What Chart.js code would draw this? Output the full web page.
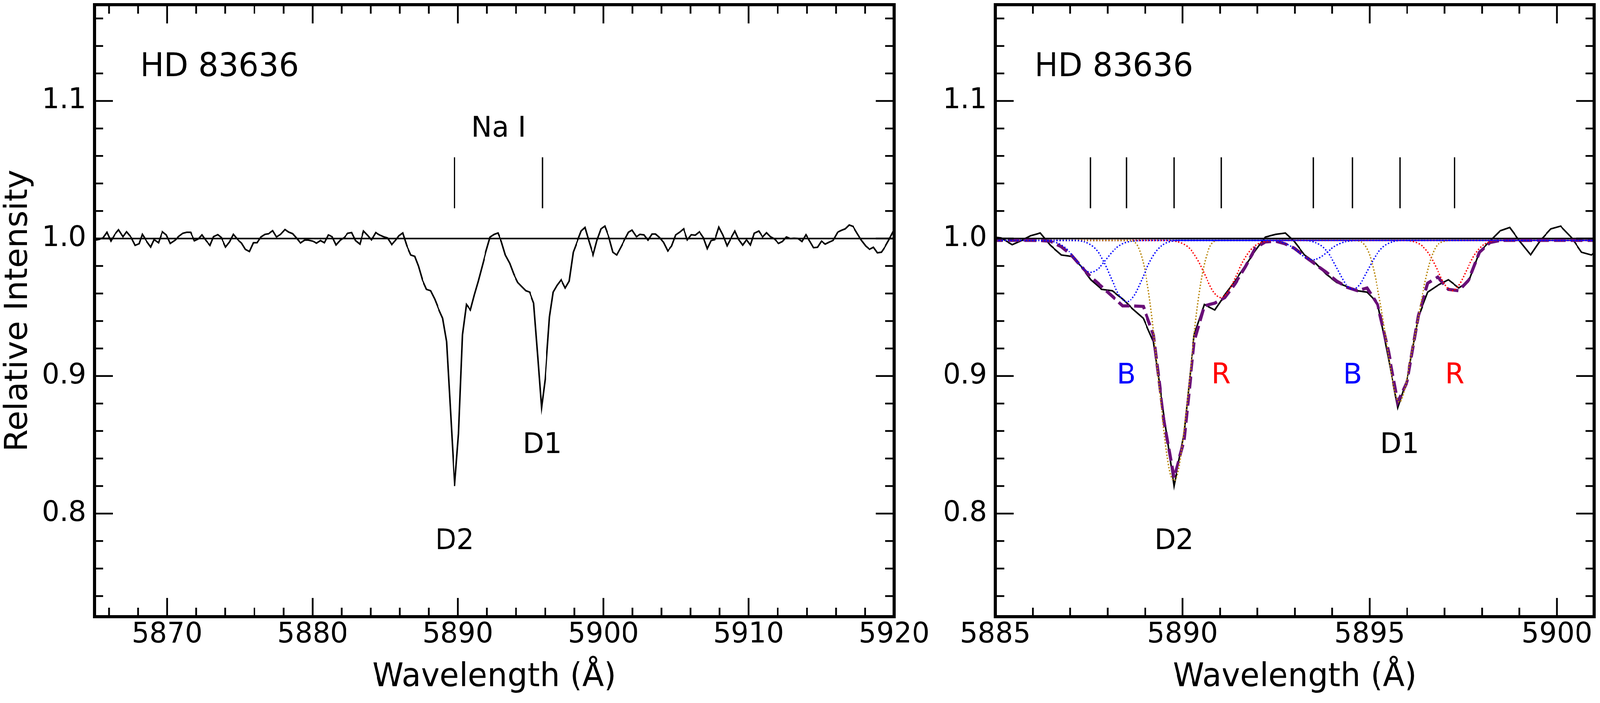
<!DOCTYPE html>
<html>
<head>
<meta charset="utf-8">
<title>HD 83636 - Na I D lines</title>
<script src="https://cdn.jsdelivr.net/npm/chart.js@4.4.1/dist/chart.umd.min.js"></script>
<style>
  html, body { margin: 0; padding: 0; background: #fff; overflow: hidden; }
  #wrap { position: relative; width: 4200px; height: 1800px; transform-origin: 0 0; }
  canvas { position: absolute; top: 0; }
  #naFull { left: 0; }
  #naZoom { left: 2400px; }
</style>
</head>
<body>
<div id="wrap">
  <canvas id="naFull" width="2500" height="1800"></canvas>
  <canvas id="naZoom" width="1800" height="1800"></canvas>
</div>
<script>
const FONT = "'DejaVu Sans', Verdana, sans-serif";

// observed spectrum, relative intensity vs wavelength (A)
const naWave = [
  5865.06, 5865.33, 5865.59, 5865.86, 5866.13, 5866.40, 5866.66, 5866.96, 5867.20, 5867.53,
  5867.80, 5868.07, 5868.29, 5868.60, 5868.87, 5869.10, 5869.40, 5869.67, 5869.94, 5870.21,
  5870.54, 5870.81, 5871.08, 5871.34, 5871.61, 5871.88, 5872.15, 5872.39, 5872.68, 5872.95,
  5873.19, 5873.48, 5873.72, 5874.02, 5874.29, 5874.55, 5874.85, 5875.12, 5875.38, 5875.65,
  5875.92, 5876.19, 5876.45, 5876.72, 5876.99, 5877.26, 5877.52, 5877.79, 5878.10, 5878.37,
  5878.63, 5878.90, 5879.17, 5879.46, 5879.70, 5880.00, 5880.28, 5880.55, 5880.81, 5881.08,
  5881.35, 5881.62, 5881.91, 5882.18, 5882.42, 5882.69, 5882.95, 5883.25, 5883.51, 5883.78,
  5884.05, 5884.34, 5884.61, 5884.88, 5885.15, 5885.45, 5885.72,
  5885.94, 5886.20, 5886.47, 5886.76, 5887.03, 5887.28, 5887.55, 5887.84, 5888.12, 5888.40,
  5888.66, 5888.95, 5889.22, 5889.50, 5889.77, 5890.04, 5890.31, 5890.58, 5890.86, 5891.13,
  5891.40, 5891.67, 5891.94, 5892.21, 5892.49, 5892.75, 5892.98, 5893.26, 5893.56, 5893.84,
  5894.12, 5894.39, 5894.67, 5894.93, 5895.21, 5895.50, 5895.75, 5896.00, 5896.30, 5896.55,
  5896.82, 5897.10, 5897.38, 5897.65, 5897.93, 5898.21, 5898.48, 5898.74, 5899.01, 5899.30,
  5899.56, 5899.84, 5900.10, 5900.39, 5900.66, 5900.92,
  5901.20, 5901.46, 5901.73, 5901.97, 5902.27, 5902.53, 5902.80, 5903.07, 5903.34, 5903.60,
  5903.87, 5904.14, 5904.43, 5904.70, 5904.98, 5905.25, 5905.52, 5905.78, 5906.05, 5906.32,
  5906.61, 5906.88, 5907.15, 5907.41, 5907.68, 5907.95, 5908.22, 5908.51, 5908.78, 5909.05,
  5909.31, 5909.58, 5909.85, 5910.12, 5910.38, 5910.69, 5910.96, 5911.23, 5911.49, 5911.76,
  5912.06, 5912.32, 5912.59, 5912.86, 5913.13, 5913.39, 5913.66, 5913.93, 5914.20, 5914.46,
  5914.73, 5915.00, 5915.27, 5915.53, 5915.80, 5916.11, 5916.38, 5916.64, 5916.91, 5917.18,
  5917.47, 5917.74, 5918.05, 5918.31, 5918.58, 5918.85, 5919.12, 5919.38, 5919.65, 5919.92,
  5920.20
];
const naFlux = [
  0.9988, 0.9994, 1.0004, 1.0045, 0.9981, 1.0030, 1.0063, 1.0013, 1.0049, 1.0007,
  0.9950, 0.9962, 1.0030, 0.9978, 0.9938, 0.9992, 0.9969, 1.0049, 1.0026, 0.9964,
  0.9988, 1.0016, 1.0038, 1.0045, 1.0045, 0.9983, 0.9997, 1.0026, 0.9983, 0.9950,
  1.0013, 1.0028, 1.0007, 0.9938, 0.9975, 1.0030, 0.9992, 0.9966, 0.9921, 0.9905,
  0.9969, 0.9969, 1.0011, 1.0030, 1.0035, 1.0057, 1.0011, 1.0030, 1.0066, 1.0046,
  1.0035, 1.0002, 0.9967, 0.9988, 0.9988, 0.9981, 0.9966, 0.9985, 0.9969, 1.0026,
  1.0013, 0.9953, 0.9988, 1.0007, 1.0038, 1.0043, 0.9985, 0.9959, 1.0054, 1.0024,
  0.9990, 1.0043, 1.0026, 1.0013, 1.0004, 0.9955, 0.9988,
  1.002, 1.004, 0.995, 0.988, 0.987, 0.980, 0.970, 0.963, 0.962, 0.956,
  0.949, 0.942, 0.925, 0.872, 0.820, 0.858, 0.930, 0.952, 0.948, 0.959,
  0.969, 0.980, 0.991, 1.001, 1.003, 1.004, 0.998, 0.988, 0.982, 0.974,
  0.968, 0.965, 0.962, 0.961, 0.953, 0.913, 0.877, 0.898, 0.943, 0.961,
  0.966, 0.970, 0.964, 0.969, 0.990, 0.998, 1.0055, 1.008, 0.998, 0.988,
  0.9986, 1.007, 1.009, 1.0007, 0.990, 0.988,
  0.9936, 0.9990, 1.0045, 1.0061, 1.0013, 1.0030, 1.0026, 0.9988, 1.0032, 1.0032,
  1.0007, 0.9972, 0.9909, 0.9945, 1.0026, 1.0046, 1.0070, 0.9990, 1.0027, 1.0024,
  1.0049, 1.0007, 0.9926, 0.9985, 0.9992, 1.0082, 1.0026, 0.9947, 1.0002, 1.0054,
  0.9992, 0.9952, 0.9992, 0.9953, 1.0038, 1.0054, 1.0011, 1.0042, 1.0013, 0.9997,
  0.9964, 0.9978, 1.0011, 0.9999, 1.0002, 1.0000, 0.9978, 1.0027, 0.9981, 0.9933,
  0.9936, 0.9981, 0.9959, 0.9973, 0.9986, 1.0045, 1.0059, 1.0070, 1.0098, 1.0087,
  1.0035, 0.9988, 0.9945, 0.9921, 0.9936, 0.9896, 0.9900, 0.9940, 0.9992, 1.0049,
  1.0080
];

// total fitted profile (purple dashed)
const fitWave = [
  5884.88, 5885.15, 5885.40, 5885.67, 5885.94, 5886.20, 5886.47, 5886.76, 5887.03, 5887.28,
  5887.55, 5887.84, 5888.12, 5888.40, 5888.66, 5888.95, 5889.22, 5889.50, 5889.77, 5890.04,
  5890.31, 5890.58, 5890.86, 5891.13, 5891.40, 5891.67, 5891.94, 5892.21, 5892.49, 5892.75,
  5892.98, 5893.26, 5893.56, 5893.84, 5894.12, 5894.39, 5894.67, 5894.93, 5895.21, 5895.50,
  5895.75, 5896.00, 5896.30, 5896.55, 5896.82, 5897.10, 5897.38, 5897.65, 5897.93, 5898.21,
  5898.48, 5898.74, 5899.01, 5899.30, 5899.56, 5899.84, 5900.10, 5900.39, 5900.66, 5900.92,
  5901.20
];
const fitFlux = [
  0.9986, 0.9986, 0.9986, 0.9986, 0.9986, 0.9985, 0.998, 0.994, 0.988, 0.980,
  0.972, 0.965, 0.958, 0.951, 0.951, 0.9506, 0.930, 0.868, 0.826, 0.853,
  0.925, 0.951, 0.953, 0.957, 0.967, 0.979, 0.993, 0.9975, 0.998, 0.996,
  0.993, 0.987, 0.981, 0.9754, 0.969, 0.9646, 0.962, 0.964, 0.952, 0.918,
  0.881, 0.896, 0.944, 0.9675, 0.972, 0.963, 0.962, 0.970, 0.990, 0.997,
  0.9986, 0.9986, 0.9986, 0.9986, 0.9986, 0.9986, 0.9986, 0.9986, 0.9986, 0.9986,
  0.9986
];

// fitted components, D2 line
const d2BlueAWave = [5885, 5886.05, 5886.35, 5886.55, 5886.75, 5886.95, 5887.15, 5887.35, 5887.55, 5887.75, 5887.95, 5888.15, 5888.35, 5888.55, 5888.75, 5889.05, 5901];
const d2BlueAFlux = [0.9986, 0.9986, 0.9983, 0.9976, 0.9955, 0.9911, 0.9845, 0.9781, 0.9754, 0.9781, 0.9845, 0.9911, 0.9955, 0.9976, 0.9983, 0.9986, 0.9986];
const d2BlueBWave = [5885, 5887.01, 5887.31, 5887.51, 5887.71, 5887.91, 5888.11, 5888.31, 5888.51, 5888.71, 5888.91, 5889.11, 5889.31, 5889.51, 5889.71, 5890.01, 5901];
const d2BlueBFlux = [0.9986, 0.9986, 0.998, 0.996, 0.9913, 0.9824, 0.970, 0.9586, 0.954, 0.9586, 0.970, 0.9824, 0.9913, 0.996, 0.998, 0.9986, 0.9986];
const d2MainWave = [5885, 5888.57, 5888.77, 5888.87, 5888.97, 5889.07, 5889.17, 5889.27, 5889.37, 5889.47, 5889.57, 5889.67, 5889.77, 5889.87, 5889.97, 5890.07, 5890.17, 5890.27, 5890.37, 5890.47, 5890.57, 5890.67, 5890.77, 5890.97, 5901];
const d2MainFlux = [0.9986, 0.9986, 0.996, 0.990, 0.980, 0.965, 0.945, 0.920, 0.893, 0.868, 0.845, 0.829, 0.824, 0.829, 0.845, 0.868, 0.893, 0.920, 0.945, 0.965, 0.980, 0.990, 0.996, 0.9986, 0.9986];
const d2RedWave = [5885, 5889.52, 5889.82, 5890.02, 5890.22, 5890.42, 5890.62, 5890.82, 5891.02, 5891.22, 5891.42, 5891.62, 5891.82, 5892.02, 5892.22, 5892.52, 5901];
const d2RedFlux = [0.9986, 0.9986, 0.9979, 0.9961, 0.9918, 0.9836, 0.9722, 0.9614, 0.957, 0.9614, 0.9722, 0.9836, 0.9918, 0.9961, 0.9979, 0.9986, 0.9986];

// fitted components, D1 line
const d1BlueAWave = [5885, 5892.18, 5892.48, 5892.68, 5892.88, 5893.08, 5893.28, 5893.48, 5893.68, 5893.88, 5894.08, 5894.28, 5894.48, 5894.78, 5901];
const d1BlueAFlux = [0.9986, 0.9986, 0.9982, 0.9971, 0.9946, 0.9905, 0.9863, 0.9845, 0.9863, 0.9905, 0.9946, 0.9971, 0.9982, 0.9986, 0.9986];
const d1BlueBWave = [5885, 5893.25, 5893.55, 5893.75, 5893.95, 5894.15, 5894.35, 5894.55, 5894.75, 5894.95, 5895.15, 5895.35, 5895.55, 5895.85, 5901];
const d1BlueBFlux = [0.9986, 0.9986, 0.997, 0.9938, 0.987, 0.977, 0.9672, 0.963, 0.9672, 0.977, 0.987, 0.9938, 0.997, 0.9986, 0.9986];
const d1MainWave = [5885, 5894.6, 5894.8, 5894.9, 5895.0, 5895.1, 5895.2, 5895.3, 5895.4, 5895.5, 5895.6, 5895.7, 5895.8, 5895.9, 5896.0, 5896.1, 5896.2, 5896.3, 5896.4, 5896.5, 5896.6, 5896.7, 5896.8, 5897.0, 5897.2, 5901];
const d1MainFlux = [0.9986, 0.9986, 0.997, 0.994, 0.988, 0.978, 0.965, 0.950, 0.933, 0.915, 0.898, 0.886, 0.881, 0.887, 0.899, 0.914, 0.928, 0.943, 0.958, 0.971, 0.982, 0.990, 0.995, 0.998, 0.9986, 0.9986];
const d1RedWave = [5885, 5895.9, 5896.2, 5896.4, 5896.6, 5896.8, 5897.0, 5897.2, 5897.4, 5897.6, 5897.8, 5898.0, 5898.2, 5898.5, 5901];
const d1RedFlux = [0.9986, 0.9986, 0.9975, 0.9946, 0.9881, 0.9776, 0.9667, 0.962, 0.9667, 0.9776, 0.9881, 0.9946, 0.9975, 0.9986, 0.9986];

// line markers (A) and their vertical extent
const labWave = [5889.77, 5895.81];
const compWave = [5887.54, 5888.50, 5889.77, 5891.03, 5893.49, 5894.54, 5895.81, 5897.27];
const markRange = [1.022, 1.059];

// axes
const fullRange = [5865, 5920];
const zoomRange = [5885, 5901];
const yRange = [0.725, 1.17];
const fullXTicks = [5870, 5880, 5890, 5900, 5910, 5920];
const zoomXTicks = [5885, 5890, 5895, 5900];
const yTicks = [0.8, 0.9, 1.0, 1.1];

// the figure is laid out on a 4200 px wide page; squeeze it if the window is narrower
const sx = Math.min(1, window.innerWidth / 4200);
document.getElementById('wrap').style.transform = 'scale(' + sx + ', 1)';

const pts = (xs, ys) => xs.map((x, i) => ({ x: x, y: ys[i] }));
const marks = (ws) => ws.flatMap(w => [{ x: w, y: markRange[0] }, { x: w, y: markRange[1] }, { x: w, y: null }]);

function series(data, color, width, dash, smooth) {
  return {
    data: data, borderColor: color, borderWidth: width, borderDash: dash || [],
    pointRadius: 0, fill: false, spanGaps: false, tension: 0,
    cubicInterpolationMode: smooth ? 'monotone' : 'default'
  };
}

function minorList(lo, hi, step, majors) {
  const out = [];
  for (let v = lo; v <= hi + 1e-9; v += step) {
    const r = Math.round(v * 1000) / 1000;
    if (!majors.some(m => Math.abs(m - r) < 1e-6)) out.push(r);
  }
  return out;
}

// inward ticks on all four sides plus the frame
function framePlugin(xMajor, xMinor, yMajor, yMinor) {
  return {
    id: 'frame',
    afterDatasetsDraw(chart) {
      const ctx = chart.ctx, a = chart.chartArea;
      const xs = chart.scales.x, ys = chart.scales.y;
      ctx.save();
      ctx.strokeStyle = '#000';
      ctx.lineCap = 'butt';
      ctx.lineWidth = 4.5;
      const doX = (vals, len) => vals.forEach(v => {
        const p = xs.getPixelForValue(v);
        ctx.beginPath();
        ctx.moveTo(p, a.bottom); ctx.lineTo(p, a.bottom - len);
        ctx.moveTo(p, a.top); ctx.lineTo(p, a.top + len);
        ctx.stroke();
      });
      const doY = (vals, len) => vals.forEach(v => {
        const p = ys.getPixelForValue(v);
        ctx.beginPath();
        ctx.moveTo(a.left, p); ctx.lineTo(a.left + len, p);
        ctx.moveTo(a.right, p); ctx.lineTo(a.right - len, p);
        ctx.stroke();
      });
      doX(xMajor, 48); doX(xMinor, 23);
      doY(yMajor, 48); doY(yMinor, 23);
      ctx.lineWidth = 8;
      ctx.strokeRect(a.left, a.top, a.right - a.left, a.bottom - a.top);
      ctx.restore();
    }
  };
}

function notesPlugin(items) {
  return {
    id: 'notes',
    afterDatasetsDraw(chart) {
      const ctx = chart.ctx, xs = chart.scales.x, ys = chart.scales.y;
      ctx.save();
      ctx.textBaseline = 'alphabetic';
      items.forEach(n => {
        ctx.font = n.size + 'px ' + FONT;
        ctx.fillStyle = n.color || '#000';
        ctx.textAlign = n.align || 'center';
        ctx.fillText(n.text, xs.getPixelForValue(n.x), ys.getPixelForValue(n.y));
      });
      ctx.restore();
    }
  };
}

function makeChart(id, o) {
  const noPad = s => { s.paddingLeft = 0; s.paddingRight = 0; s.paddingTop = 0; s.paddingBottom = 0; };
  return new Chart(document.getElementById(id), {
    type: 'line',
    data: { datasets: o.datasets },
    options: {
      responsive: false, animation: false, devicePixelRatio: 1, events: [],
      layout: { padding: o.padding },
      plugins: { legend: { display: false }, tooltip: { enabled: false } },
      scales: {
        x: {
          type: 'linear', min: o.xRange[0], max: o.xRange[1],
          afterBuildTicks: s => { s.ticks = o.xTicks.map(v => ({ value: v })); },
          afterFit: s => { s.height = o.xAxisHeight; noPad(s); },
          grid: { display: false, drawTicks: false },
          border: { display: false },
          ticks: {
            font: { family: FONT, size: 73 }, color: '#000', padding: 3,
            maxRotation: 0, autoSkip: false, callback: v => String(v)
          },
          title: {
            display: true, text: 'Wavelength (Å)', color: '#000',
            font: { family: FONT, size: 83 }, padding: { top: 0, bottom: 15 }
          }
        },
        y: {
          type: 'linear', min: yRange[0], max: yRange[1],
          afterBuildTicks: s => { s.ticks = yTicks.map(v => ({ value: v })); },
          afterFit: s => { s.width = o.yAxisWidth; noPad(s); },
          grid: { display: false, drawTicks: false },
          border: { display: false },
          ticks: {
            font: { family: FONT, size: 73 }, color: '#000', padding: 22,
            autoSkip: false, callback: v => v.toFixed(1)
          },
          title: {
            display: !!o.yTitle, text: o.yTitle || '', color: '#000',
            font: { family: FONT, size: 83 }, padding: { top: 0, bottom: 0 }
          }
        }
      }
    },
    plugins: [
      framePlugin(o.xTicks, o.xMinor, yTicks, minorList(0.74, 1.16, 0.02, yTicks)),
      notesPlugin(o.notes)
    ]
  });
}

// left: full Na I region
makeChart('naFull', {
  xRange: fullRange, xTicks: fullXTicks,
  xMinor: minorList(5866, 5918, 2, fullXTicks),
  padding: { left: 0, top: 12, right: 153, bottom: 0 },
  xAxisHeight: 221, yAxisWidth: 248, yTitle: 'Relative Intensity',
  datasets: [
    series(pts(naWave, naFlux), '#000', 4),
    series(pts(fullRange, [1, 1]), '#000', 4),
    series(marks(labWave), '#000', 3.5)
  ],
  notes: [
    { text: 'HD 83636', x: 5868.14, y: 1.118, align: 'left', size: 83 },
    { text: 'Na I', x: 5892.8, y: 1.074, size: 73 },
    { text: 'D2', x: 5889.77, y: 0.774, size: 73 },
    { text: 'D1', x: 5895.8, y: 0.844, size: 73 }
  ]
});

// right: zoom with the component fit
makeChart('naZoom', {
  xRange: zoomRange, xTicks: zoomXTicks,
  xMinor: minorList(5886, 5900, 1, zoomXTicks),
  padding: { left: 0, top: 12, right: 15, bottom: 0 },
  xAxisHeight: 221, yAxisWidth: 213, yTitle: null,
  datasets: [
    series(pts(d2BlueAWave, d2BlueAFlux), '#0000ff', 3.5, [3.5, 4.5], true),
    series(pts(d2BlueBWave, d2BlueBFlux), '#0000ff', 3.5, [3.5, 4.5], true),
    series(pts(d2MainWave, d2MainFlux), '#b8860b', 3.5, [3.5, 4.5], true),
    series(pts(d2RedWave, d2RedFlux), '#ff0000', 3.5, [3.5, 4.5], true),
    series(pts(d1BlueAWave, d1BlueAFlux), '#0000ff', 3.5, [3.5, 4.5], true),
    series(pts(d1BlueBWave, d1BlueBFlux), '#0000ff', 3.5, [3.5, 4.5], true),
    series(pts(d1MainWave, d1MainFlux), '#b8860b', 3.5, [3.5, 4.5], true),
    series(pts(d1RedWave, d1RedFlux), '#ff0000', 3.5, [3.5, 4.5], true),
    series(pts(fitWave, fitFlux), '#6a0f78', 8, [31, 13]),
    series(pts(naWave, naFlux), '#000', 4),
    series(pts(zoomRange, [1, 1]), '#000', 4),
    series(marks(compWave), '#000', 3.5)
  ],
  notes: [
    { text: 'HD 83636', x: 5886.04, y: 1.118, align: 'left', size: 83 },
    { text: 'D2', x: 5889.77, y: 0.774, size: 73 },
    { text: 'D1', x: 5895.8, y: 0.844, size: 73 },
    { text: 'B', x: 5888.50, y: 0.8946, size: 73, color: '#0000ff' },
    { text: 'R', x: 5891.03, y: 0.8946, size: 73, color: '#ff0000' },
    { text: 'B', x: 5894.54, y: 0.8946, size: 73, color: '#0000ff' },
    { text: 'R', x: 5897.27, y: 0.8946, size: 73, color: '#ff0000' }
  ]
});
</script>
</body>
</html>
